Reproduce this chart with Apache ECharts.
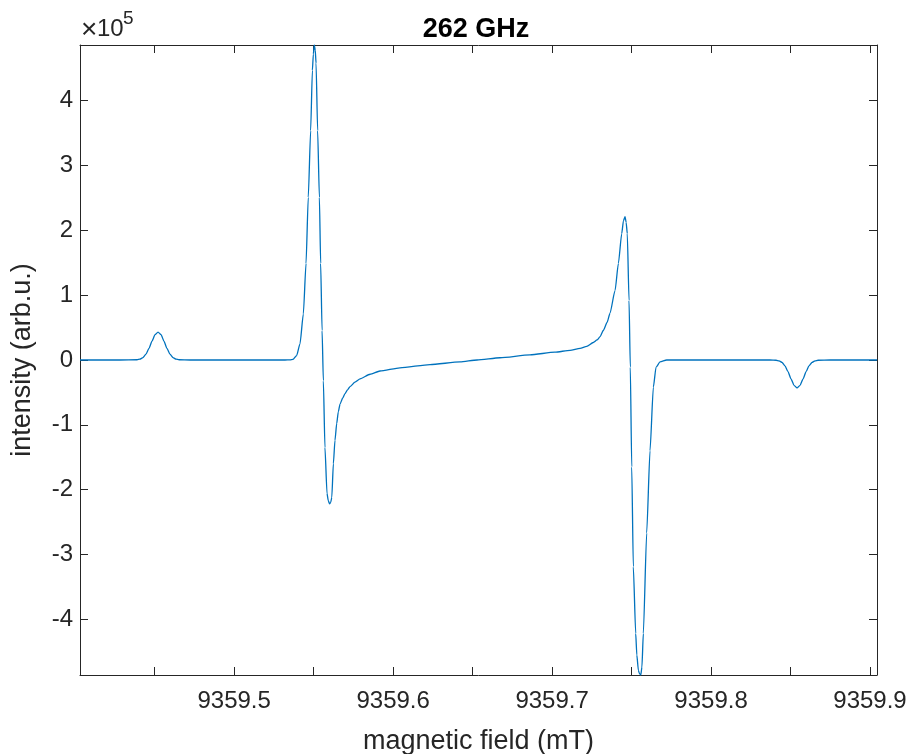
<!DOCTYPE html>
<html>
<head>
<meta charset="utf-8">
<script src="https://cdn.jsdelivr.net/npm/echarts@6/dist/echarts.min.js"></script>
<style>
html,body{margin:0;padding:0;background:#fff;}
#chart{width:911px;height:754px;}
</style>
</head>
<body>
<div id="chart"></div>
<script>
// magnetic field (mT)
var fieldMT = [
  9359.4030, 9359.4282,
  9359.4389, 9359.4407, 9359.4426, 9359.4445, 9359.4464, 9359.4483, 9359.4502,
  9359.4521,
  9359.4540, 9359.4558, 9359.4577, 9359.4596, 9359.4615, 9359.4634, 9359.4653,
  9359.4722, 9359.5100, 9359.5320,
  9359.5351, 9359.5370, 9359.5393, 9359.5414, 9359.5435, 9359.5452, 9359.5466, 9359.5481, 9359.5492, 9359.5498,
  9359.5504,
  9359.5510, 9359.5515, 9359.5525, 9359.5536, 9359.5544, 9359.5553, 9359.5561, 9359.5571, 9359.5584, 9359.5592,
  9359.5600,
  9359.5607, 9359.5614, 9359.5624, 9359.5634, 9359.5645, 9359.5655, 9359.5666, 9359.5682, 9359.5697, 9359.5713,
  9359.5729, 9359.5760, 9359.5792, 9359.5855, 9359.5917, 9359.6043, 9359.6232, 9359.6421, 9359.6528, 9359.6672,
  9359.6861, 9359.7018, 9359.7113, 9359.7176, 9359.7218, 9359.7259, 9359.7283, 9359.7302, 9359.7322, 9359.7346,
  9359.7364, 9359.7396, 9359.7417, 9359.7438, 9359.7449,
  9359.7459,
  9359.7466, 9359.7473, 9359.7484, 9359.7492, 9359.7501, 9359.7511, 9359.7526, 9359.7533, 9359.7543, 9359.7550,
  9359.7558,
  9359.7565, 9359.7574, 9359.7595, 9359.7616, 9359.7637, 9359.7654, 9359.7679, 9359.7721,
  9359.8056, 9359.8371,
  9359.8409, 9359.8428, 9359.8447, 9359.8465, 9359.8484, 9359.8503, 9359.8522,
  9359.8541,
  9359.8560, 9359.8579, 9359.8598, 9359.8616, 9359.8635, 9359.8654, 9359.8673,
  9359.8749, 9359.9044
];
// intensity (arb.u.)
var intensity = [
  0, 0,
  400, 1300, 3800, 9000, 18000, 29200, 39000,
  43000,
  39000, 29200, 18000, 9000, 3800, 1300, 400,
  0, 0, 0,
  300, 1000, 6900, 25000, 71000, 149000, 251000, 354000, 447000, 472000,
  486000,
  478000, 458000, 354000, 251000, 149000, 45500, -32000, -135000, -206000, -217000,
  -222000,
  -220000, -212000, -160000, -124000, -98000, -80000, -68000, -59000, -52000, -46000,
  -41000, -34000, -29000, -22000, -17000, -12000, -7000, -3000, 0, 3500,
  8000, 12000, 15000, 18000, 21000, 27000, 31000, 36000, 45500, 58000,
  72000, 107000, 149000, 195000, 215000,
  221000,
  212000, 195000, 92000, -11000, -165000, -319000, -422000, -455000, -479000, -484000,
  -486000,
  -474000, -422000, -267000, -140000, -42000, -11000, -3000, 0,
  0, 0,
  -400, -1300, -3800, -9000, -18000, -29200, -39000,
  -43000,
  -39000, -29200, -18000, -9000, -3800, -1300, -400,
  0, 0
];
var xTickValues = [9359.45, 9359.5, 9359.55, 9359.6, 9359.65, 9359.7, 9359.75, 9359.8, 9359.85, 9359.9];
var xLabelValues = [9359.5, 9359.6, 9359.7, 9359.8, 9359.9];
var yTickValues = [-400000, -300000, -200000, -100000, 0, 100000, 200000, 300000, 400000];

var FONT = 'Liberation Sans';
var AX = '#262626';
var xMin = 9359.4030, xMax = 9359.9044, yMin = -486000, yMax = 486000;

var seriesData = fieldMT.map(function (f, i) { return [f, intensity[i]]; });

var chart = echarts.init(document.getElementById('chart'), null, {renderer: 'canvas'});
chart.setOption({
  backgroundColor: '#ffffff',
  animation: false,
  title: {
    text: '262 GHz',
    left: 471, top: 11, textAlign: 'center',
    textStyle: {fontFamily: FONT, fontSize: 27, fontWeight: 'bold', color: '#000000'}
  },
  grid: {left: 80, right: 34, top: 45, bottom: 79, containLabel: false, outerBoundsMode: 'none'},
  xAxis: [{
    type: 'value', position: 'bottom', min: xMin, max: xMax,
    name: 'magnetic field (mT)', nameLocation: 'middle', nameGap: 53,
    nameTextStyle: {fontFamily: FONT, fontSize: 27, color: AX},
    axisLine: {show: true, onZero: false, lineStyle: {color: AX, width: 1}},
    axisTick: {show: true, inside: true, length: 8, customValues: xTickValues, lineStyle: {color: AX, width: 1}},
    axisLabel: {show: true, customValues: xLabelValues, margin: 14, fontFamily: FONT, fontSize: 24, color: AX,
      formatter: function (v) { return v.toFixed(1); }},
    splitLine: {show: false}
  }, {
    type: 'value', position: 'top', min: xMin, max: xMax,
    axisLine: {show: true, onZero: false, lineStyle: {color: AX, width: 1}},
    axisTick: {show: true, inside: true, length: 8, customValues: xTickValues, lineStyle: {color: AX, width: 1}},
    axisLabel: {show: false},
    splitLine: {show: false}
  }],
  yAxis: [{
    type: 'value', position: 'left', min: yMin, max: yMax,
    name: 'intensity (arb.u.)', nameLocation: 'middle', nameGap: 44,
    nameTextStyle: {fontFamily: FONT, fontSize: 27, color: AX},
    axisLine: {show: true, onZero: false, lineStyle: {color: AX, width: 1}},
    axisTick: {show: true, inside: true, length: 8, customValues: yTickValues, lineStyle: {color: AX, width: 1}},
    axisLabel: {show: true, customValues: yTickValues, margin: 7, fontFamily: FONT, fontSize: 24, color: AX,
      formatter: function (v) { return String(Math.round(v / 100000)); }},
    splitLine: {show: false}
  }, {
    type: 'value', position: 'right', min: yMin, max: yMax,
    axisLine: {show: true, onZero: false, lineStyle: {color: AX, width: 1}},
    axisTick: {show: true, inside: true, length: 8, customValues: yTickValues, lineStyle: {color: AX, width: 1}},
    axisLabel: {show: false},
    splitLine: {show: false}
  }],
  graphic: [
    {type: 'text', left: 81, top: 16, style: {text: '\u00d7', font: '28px "Liberation Sans"', fill: AX}},
    {type: 'text', left: 97, top: 17, style: {text: '10', font: '24px "Liberation Sans"', fill: AX}},
    {type: 'text', left: 123, top: 9, style: {text: '5', font: '19px "Liberation Sans"', fill: AX}}
  ],
  series: [{
    type: 'line', xAxisIndex: 0, yAxisIndex: 0,
    data: seriesData, showSymbol: false, symbol: 'none', clip: true,
    smooth: 0.2, smoothMonotone: 'x',
    lineStyle: {color: '#0072BD', width: 1.3}
  }]
});
</script>
</body>
</html>
